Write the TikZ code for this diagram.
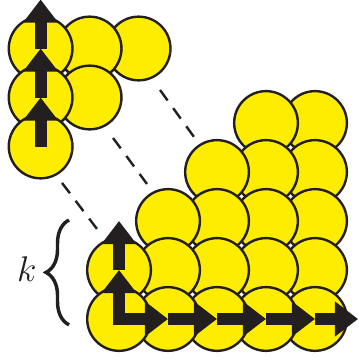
\documentclass[tikz,border=0pt]{standalone}
\usepackage{amsmath,amssymb}
\usepackage{tikz}
\usetikzlibrary{arrows.meta,decorations.pathreplacing}
\definecolor{yel}{RGB}{255,237,0}
\definecolor{ink}{RGB}{35,31,32}

\begin{document}
\begin{tikzpicture}[ball/.style={circle, draw=ink, fill=yel, line width=1.4pt, minimum size=1.3cm, inner sep=0pt},
        blk/.style={draw=ink, line width=7pt, -{Triangle[length=13.4pt,width=19.5pt]}},
        guide/.style={draw=ink, line width=1.4pt, dash pattern=on 7.5pt off 5.5pt}]
    \useasboundingbox (-2.429,-0.837) rectangle (4.878,6.51);
    % upper cluster
    \begin{scope}[shift={(-1.6,3.52)}]
        \foreach \j/\e in {2/2,1/1,0/0} { \foreach \i in {\e,...,0} { \node[ball] (t-\i-\j) at (\i,\j) {}; } }
        \coordinate (t-end) at (0,3);
        \draw[blk] (t-0-0.center) -- (t-0-1.center); \draw[blk] (t-0-1.center) -- (t-0-2.center); \draw[blk] (t-0-2.center) -- (t-end);
    \end{scope}

    % lower cluster
    \foreach \j/\s in {4/3,3/2,2/1,1/0,0/0} { \foreach \i in {4,...,\s} { \node[ball] (l-\i-\j) at (\i,\j) {}; } }
    \coordinate (l-top) at (0,2); \coordinate (l-end) at (4.878,0);
    \draw[blk] (l-0-0.center) -- (l-0-1.center); \draw[blk] (l-0-1.center) -- (l-top);
    \draw[blk, line cap=rect] (l-0-0.center) -- (l-1-0.center);
    \foreach \i [evaluate=\i as \n using int(\i+1)] in {1,2,3} { \draw[blk] (l-\i-0.center) -- (l-\n-0.center); }
    \draw[blk] (l-4-0.center) -- (l-end);

    % dashed guides
    \coordinate (g1a) at (0.837,4.673); \coordinate (g1b) at (1.531,3.714);
    \coordinate (g2a) at (-0.122,3.694); \coordinate (g2b) at (0.571,2.755);
    \coordinate (g3a) at (-1.163,2.776); \coordinate (g3b) at (-0.449,1.837);
    \draw[guide] (g1a) -- (g1b); \draw[guide] (g2a) -- (g2b); \draw[guide] (g3a) -- (g3b);

    % brace and label
    \coordinate (br-a) at (-1.02,-0.12); \coordinate (br-b) at (-1.02,2.02);
    \draw[ink, line width=2pt, decorate, decoration={brace, amplitude=0.47cm}] (br-a) -- (br-b);
    \node[text=ink, font=\fontsize{20}{23}\selectfont] (klab) at (-1.88,1.02) {$k$};
\end{tikzpicture}
\end{document}
